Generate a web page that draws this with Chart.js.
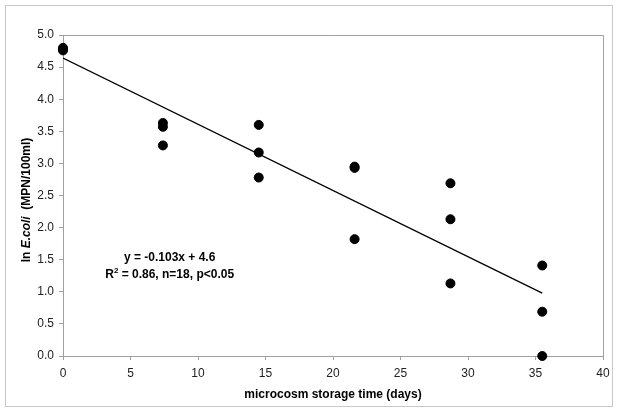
<!DOCTYPE html>
<html><head><meta charset="utf-8">
<script src="https://cdn.jsdelivr.net/npm/chart.js@4/dist/chart.umd.min.js"></script>
<style>html,body{margin:0;padding:0;background:#fff}#wrap{width:617px;height:412px}</style>
</head><body><div id="wrap"><canvas id="c" width="617" height="412"></canvas></div>
<script>
const days = [0, 0, 0, 7.4, 7.4, 7.4, 14.5, 14.5, 14.5, 21.6, 21.6, 21.6, 28.7, 28.7, 28.7, 35.5, 35.5, 35.5];
const lnEcoli = [4.80, 4.78, 4.76, 3.63, 3.57, 3.28, 3.60, 3.17, 2.78, 2.95, 2.93, 1.82, 2.69, 2.13, 1.13, 1.41, 0.69, 0.00];
const trendX = [0, 35.5];
const trendY = [4.64, 0.98];
const xTicks = [0, 5, 10, 15, 20, 25, 30, 35, 40];
const yTicks = [0, 0.5, 1, 1.5, 2, 2.5, 3, 3.5, 4, 4.5, 5];
const eqLine1 = 'y = -0.103x + 4.6';
const eqLine2 = ['R', '2', ' = 0.86, n=18, p<0.05'];
const xTitle = 'microcosm storage time (days)';
const yTitleParts = [['ln ', false], ['E.coli', true], ['  (MPN/100ml)', false]];

const FONT = '"Liberation Sans", Arial, sans-serif';

const decor = {
  id: 'decor',
  beforeDraw(chart) {
    const ctx = chart.ctx;
    ctx.save();
    ctx.fillStyle = '#fff';
    ctx.fillRect(0, 0, chart.width, chart.height);
    ctx.strokeStyle = '#c8c8c8';
    ctx.lineWidth = 1;
    ctx.strokeRect(5.5, 5.5, 607, 401);
    ctx.restore();
  },
  afterDatasetsDraw(chart) {
    const ctx = chart.ctx, a = chart.chartArea;
    ctx.save();
    ctx.strokeStyle = '#a0a0a0';
    ctx.lineWidth = 1;
    ctx.beginPath();
    ctx.moveTo(Math.round(a.left) + 0.5, Math.round(a.top) + 0.5);
    ctx.lineTo(Math.round(a.right) + 0.5, Math.round(a.top) + 0.5);
    ctx.lineTo(Math.round(a.right) + 0.5, Math.round(a.bottom) + 0.5);
    ctx.stroke();
    ctx.restore();
  },
  afterDraw(chart) {
    const ctx = chart.ctx;
    const xs = chart.scales.x, ys = chart.scales.y;
    ctx.save();
    // equation text
    ctx.fillStyle = '#000';
    ctx.font = 'bold 12px ' + FONT;
    ctx.textBaseline = 'middle';
    ctx.textAlign = 'center';
    const cx = xs.getPixelForValue(7.9);
    ctx.fillText(eqLine1, cx, ys.getPixelForValue(1.53));
    const y2 = ys.getPixelForValue(1.26);
    const w0 = ctx.measureText(eqLine2[0]).width;
    ctx.font = 'bold 8px ' + FONT;
    const w1 = ctx.measureText(eqLine2[1]).width;
    ctx.font = 'bold 12px ' + FONT;
    const w2 = ctx.measureText(eqLine2[2]).width;
    let sx = cx - (w0 + w1 + w2) / 2;
    ctx.textAlign = 'left';
    ctx.fillText(eqLine2[0], sx, y2);
    ctx.font = 'bold 8px ' + FONT;
    ctx.fillText(eqLine2[1], sx + w0, y2 - 4);
    ctx.font = 'bold 12px ' + FONT;
    ctx.fillText(eqLine2[2], sx + w0 + w1, y2);
    // x title
    ctx.textAlign = 'center';
    ctx.font = 'bold 12px ' + FONT;
    ctx.fillText(xTitle, 333, 395);
    // y title (rotated, mixed italic)
    ctx.translate(27, 200);
    ctx.rotate(-Math.PI / 2);
    let total = 0;
    const widths = yTitleParts.map(p => {
      ctx.font = (p[1] ? 'italic ' : '') + 'bold 12px ' + FONT;
      const w = ctx.measureText(p[0]).width; total += w; return w;
    });
    let px = -total / 2;
    ctx.textAlign = 'left';
    yTitleParts.forEach((p, i) => {
      ctx.font = (p[1] ? 'italic ' : '') + 'bold 12px ' + FONT;
      ctx.fillText(p[0], px, 0);
      px += widths[i];
    });
    ctx.restore();
  }
};

new Chart(document.getElementById('c'), {
  type: 'scatter',
  data: {
    datasets: [
      {
        type: 'line',
        data: trendX.map((d, i) => ({ x: d, y: trendY[i] })),
        borderColor: '#000', borderWidth: 1.3, pointRadius: 0, fill: false, tension: 0
      },
      {
        data: days.map((d, i) => ({ x: d, y: lnEcoli[i] })),
        backgroundColor: '#000', borderColor: '#000', borderWidth: 1,
        pointRadius: 4.5, pointHoverRadius: 4.5, showLine: false, clip: false
      }
    ]
  },
  plugins: [decor],
  options: {
    responsive: false, animation: false, devicePixelRatio: 1,
    layout: { padding: { top: 35, right: 14, left: 0, bottom: 0 } },
    plugins: { legend: { display: false }, tooltip: { enabled: false } },
    scales: {
      x: {
        type: 'linear', min: 0, max: 40,
        afterBuildTicks: s => { s.ticks = xTicks.map(v => ({ value: v })); },
        afterFit: s => { s.height = 56; },
        grid: { drawOnChartArea: false, drawTicks: true, tickLength: 4, color: '#a0a0a0' },
        border: { color: '#a0a0a0' },
        ticks: { color: '#222', font: { family: FONT, size: 12 }, padding: 6, maxRotation: 0 }
      },
      y: {
        type: 'linear', min: 0, max: 5,
        afterBuildTicks: s => { s.ticks = yTicks.map(v => ({ value: v })); },
        afterFit: s => { s.width = 63; },
        grid: { drawOnChartArea: false, drawTicks: true, tickLength: 4, color: '#a0a0a0' },
        border: { color: '#a0a0a0' },
        ticks: { color: '#222', font: { family: FONT, size: 12 }, padding: 5, callback: v => Number(v).toFixed(1) }
      }
    }
  }
});
</script></body></html>
